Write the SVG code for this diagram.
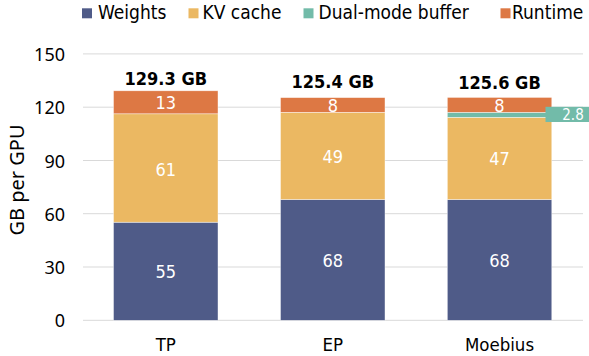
<svg xmlns="http://www.w3.org/2000/svg" width="589" height="356" viewBox="0 0 589 356">
<style>
.grid{stroke:#d9d9d9;stroke-width:1;fill:none}
.w{fill:#4f5b88}
.kv{fill:#ebb862}
.dm{fill:#72bba9}
.rt{fill:#dd7844}
.seg{stroke:#ffffff;stroke-width:0.6;stroke-opacity:0.7}
.cond{font-family:"DejaVu Sans Condensed","DejaVu Sans",sans-serif;font-stretch:condensed}
.lbl{font-size:18px;fill:#ffffff;text-anchor:middle}
.tot{font-size:18px;font-weight:bold;fill:#000000;text-anchor:middle}
.leg{font-size:19px;fill:#000000}
.tick{font-family:"Noto Sans","Open Sans",sans-serif;font-size:18px;fill:#000000;text-anchor:end}
.cat{font-size:18.5px;fill:#000000;text-anchor:middle}
</style>
<rect width="589" height="356" fill="#ffffff"/>
<g id="legend">
<rect class="w" x="82" y="8.3" width="10" height="10"/>
<text class="cond leg" x="98" y="19">Weights</text>
<rect class="kv" x="188.5" y="8.3" width="10" height="10"/>
<text class="cond leg" x="202.5" y="19">KV cache</text>
<rect class="dm" x="303.5" y="8.3" width="10" height="10"/>
<text class="cond leg" x="318.5" y="19">Dual-mode buffer</text>
<rect class="rt" x="500.5" y="8.3" width="10" height="10"/>
<text class="cond leg" x="512" y="19">Runtime</text>
</g>
<g id="axes">
<line class="grid" x1="83" y1="53.9" x2="583" y2="53.9"/>
<line class="grid" x1="83" y1="107.2" x2="583" y2="107.2"/>
<line class="grid" x1="83" y1="160.5" x2="583" y2="160.5"/>
<line class="grid" x1="83" y1="213.7" x2="583" y2="213.7"/>
<line class="grid" x1="83" y1="267" x2="583" y2="267"/>
<line class="grid" x1="83" y1="320.3" x2="583" y2="320.3"/>
<text class="tick" x="65" y="61">150</text>
<text class="tick" x="65" y="114.2">120</text>
<text class="tick" x="65" y="167.5">90</text>
<text class="tick" x="65" y="220.7">60</text>
<text class="tick" x="65" y="274">30</text>
<text class="tick" x="65" y="327.3">0</text>
<text transform="translate(24,180) rotate(-90)" font-family="Noto Sans, Open Sans, sans-serif" font-size="20" text-anchor="middle" fill="#000000">GB per GPU</text>
<text class="cond cat" x="165.8" y="351">TP</text>
<text class="cond cat" x="332.8" y="351">EP</text>
<text class="cond cat" x="499.5" y="351">Moebius</text>
</g>
<g id="bar-TP">
<rect class="w seg" x="113.5" y="222.2" width="104.5" height="98.1"/>
<rect class="kv seg" x="113.5" y="113.8" width="104.5" height="108.4"/>
<rect class="rt seg" x="113.5" y="90.8" width="104.5" height="23"/>
<text class="cond lbl" x="165.8" y="278.3">55</text>
<text class="cond lbl" x="165.8" y="175.7">61</text>
<text class="cond lbl" x="165.8" y="109.3">13</text>
<text class="cond tot" x="165.8" y="85.3">129.3 GB</text>
</g>
<g id="bar-EP">
<rect class="w seg" x="280.5" y="199.5" width="104.5" height="120.8"/>
<rect class="kv seg" x="280.5" y="112.3" width="104.5" height="87.2"/>
<rect class="rt seg" x="280.5" y="97.6" width="104.5" height="14.7"/>
<text class="cond lbl" x="332.8" y="266.7">68</text>
<text class="cond lbl" x="332.8" y="163.3">49</text>
<text class="cond lbl" x="332.8" y="112">8</text>
<text class="cond tot" x="332.8" y="88.3">125.4 GB</text>
</g>
<g id="bar-Moebius">
<rect class="w seg" x="447.3" y="199.5" width="104.5" height="120.8"/>
<rect class="kv seg" x="447.3" y="117.3" width="104.5" height="82.2"/>
<rect class="dm seg" x="447.3" y="112.3" width="104.5" height="5"/>
<rect class="rt seg" x="447.3" y="97.4" width="104.5" height="14.9"/>
<text class="cond lbl" x="499.5" y="266.7">68</text>
<text class="cond lbl" x="499.5" y="165.2">47</text>
<text class="cond lbl" x="499.5" y="112">8</text>
<text class="cond tot" x="499.5" y="89">125.6 GB</text>
</g>
<g id="label-dual-mode">
<rect class="dm" x="545.5" y="106.8" width="50" height="15.2"/>
<text class="cond" x="573" y="119.5" font-size="15" fill="#ffffff" text-anchor="middle">2.8</text>
</g>
</svg>
